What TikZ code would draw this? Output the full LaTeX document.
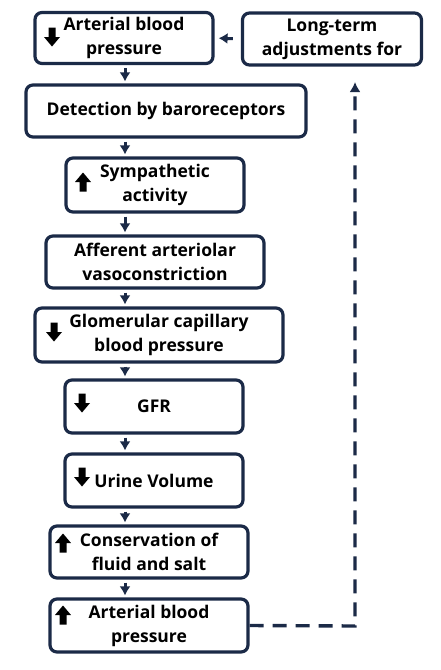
\documentclass[tikz,border=0pt]{standalone}
\usepackage{fontspec}
\setmainfont{Open Sans}
\usepackage{tikz}
\usetikzlibrary{arrows.meta,positioning,calc}
\definecolor{boxnavy}{HTML}{1B2A47}
\tikzset{
  stepbox/.style={draw=boxnavy,line width=3.2pt,rounded corners=7pt,fill=white,align=center,inner sep=2pt,
    font=\bfseries\fontsize{17.5}{24}\selectfont,text=black},
  flow/.style={-{Latex[length=9pt,width=11pt]},line width=3pt,draw=boxnavy},
  dashflow/.style={-{Latex[length=10pt,width=11pt]},line width=3.4pt,draw=boxnavy,dash pattern=on 14pt off 9pt},
  downicon/.pic={\fill[black] (-3.5,-9.5)--(3.5,-9.5)--(3.5,0)--(8,0)--(0,9.5)--(-8,0)--(-3.5,0)--cycle;},
  upicon/.pic={\fill[black] (-3.5,9.5)--(3.5,9.5)--(3.5,0)--(8,0)--(0,-9.5)--(-8,0)--(-3.5,0)--cycle;},
}

\begin{document}
\begin{tikzpicture}[x=1pt,y=-1pt]
    \useasboundingbox (0,0) rectangle (440,670);
    % boxes of the chain
    \node[stepbox,minimum width=178pt,minimum height=51pt] (abpdown) at (124,38) {Arterial blood\\pressure};
    \node[stepbox,minimum width=179pt,minimum height=52pt] (longterm) at (332,39) {Long-term\\adjustments for};
    \node[stepbox,minimum width=280pt,minimum height=52pt] (baro) at (166,111) {Detection by baroreceptors};
    \node[stepbox,minimum width=178pt,minimum height=54pt] (symp) at (155,185) {Sympathetic\\activity};
    \node[stepbox,minimum width=218pt,minimum height=52pt] (afferent) at (155,262) {Afferent arteriolar\\vasoconstriction};
    \node[stepbox,minimum width=248pt,minimum height=54pt] (glom) at (159,335) {Glomerular capillary\\blood pressure};
    \node[stepbox,minimum width=178pt,minimum height=53pt] (gfr) at (154,406.5) {GFR};
    \node[stepbox,minimum width=178pt,minimum height=53pt] (urine) at (154,480.5) {Urine Volume};
    \node[stepbox,minimum width=198pt,minimum height=52pt] (conserv) at (149,552) {Conservation of\\fluid and salt};
    \node[stepbox,minimum width=198pt,minimum height=53pt] (abpup) at (149,625.5) {Arterial blood\\pressure};
    % up / down icons
    \pic at (52,37) {downicon};
    \pic at (83,182) {upicon};
    \pic at (54,332) {downicon};
    \pic at (82,403) {downicon};
    \pic at (82,477) {downicon};
    \pic at (63,543) {upicon};
    \pic at (63,615) {upicon};
    % connectors
    \foreach \a/\b in {abpdown/baro,baro/symp,symp/afferent,afferent/glom,glom/gfr,gfr/urine,urine/conserv,conserv/abpup}
      \draw[flow,shorten <=3pt,shorten >=2pt] (\a.south -| 125,0) -- (\b.north -| 125,0);
    \draw[flow,shorten <=8pt,shorten >=4pt] (longterm.west) -- (abpdown.east);
    \coordinate (turn) at (355,626);
    \coordinate (rise) at (355,82);
    \draw[dashflow] (abpup.east) -- (turn) -- (rise);
\end{tikzpicture}
\end{document}
